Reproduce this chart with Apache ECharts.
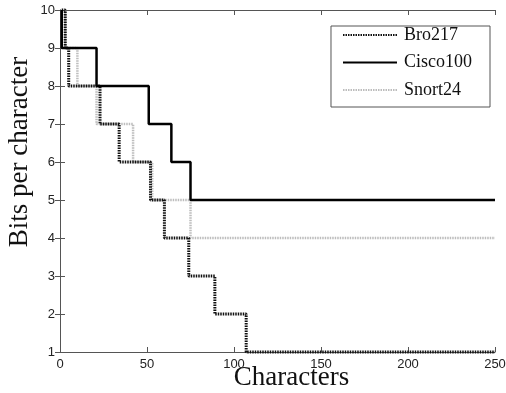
<!DOCTYPE html>
<html>
<head>
<meta charset="utf-8">
<script src="https://cdn.jsdelivr.net/npm/echarts@6/dist/echarts.min.js"></script>
<style>
  html, body { margin: 0; padding: 0; background: #fff; }
  #chart { width: 506px; height: 393px; }
</style>
</head>
<body>
<div id="chart"></div>
<script>
// step breakpoints: x where the level starts, and the level (bits per char)
const broX = [1, 3, 5, 23, 34, 52, 60, 74, 89, 107, 250];
const broY = [10, 9, 8, 7, 6, 5, 4, 3, 2, 1, 1];
const ciscoX = [1, 1, 21, 51, 64, 75, 250];
const ciscoY = [10, 9, 8, 7, 6, 5, 5];
const snortX = [3, 3, 10, 21, 42, 53, 75, 250];
const snortY = [10, 9, 8, 7, 6, 5, 4, 4];

const xTicks = [0, 50, 100, 150, 200, 250];
const yTicks = [1, 2, 3, 4, 5, 6, 7, 8, 9, 10];

function pairs(xs, ys) {
  return xs.map((x, i) => [x, ys[i]]);
}

const chart = echarts.init(document.getElementById('chart'));

const tickLabel = { color: '#222', fontFamily: 'Liberation Sans', fontSize: 13 };
const axLine = { show: true, lineStyle: { color: '#555', width: 1 } };
const axTick = { show: true, inside: true, length: 5, lineStyle: { color: '#555' } };

let chart_options = {
  animation: false,
  backgroundColor: '#fff',
  grid: { left: 60, right: 11, top: 10, bottom: 41, outerBoundsMode: 'none', containLabel: false },
  legend: {
    orient: 'vertical',
    right: 16,
    top: 26,
    padding: [0, 18, 8, 11],
    itemGap: 9.5,
    itemWidth: 54,
    itemHeight: 16,
    borderColor: '#555',
    borderWidth: 1,
    backgroundColor: '#fff',
    itemStyle: { opacity: 0 },
    textStyle: { fontFamily: 'Liberation Serif', fontSize: 18, color: '#111', padding: [0, 0, 0, 2] },
    data: ['Bro217', 'Cisco100', 'Snort24']
  },
  xAxis: [{
    type: 'value',
    min: 0, max: 250, interval: 50,
    name: 'Characters',
    nameLocation: 'middle',
    nameMoveOverlap: false,
    nameGap: 26,
    nameTextStyle: { fontFamily: 'Liberation Serif', fontSize: 27, color: '#111', verticalAlign: 'middle', padding: [0, 0, 0, 28] },
    axisLine: axLine, axisTick: axTick,
    axisLabel: Object.assign({ margin: 6, formatter: v => xTicks.includes(v) ? String(v) : '' }, tickLabel),
    splitLine: { show: false }
  }, {
    type: 'value', position: 'top',
    min: 0, max: 250, interval: 50,
    axisLine: axLine, axisTick: axTick, axisLabel: { show: false }, splitLine: { show: false }
  }],
  yAxis: [{
    type: 'value',
    min: 1, max: 10, interval: 1,
    name: 'Bits per character',
    nameLocation: 'middle',
    nameMoveOverlap: false,
    nameGap: 40,
    nameTextStyle: { fontFamily: 'Liberation Serif', fontSize: 27, color: '#111', verticalAlign: 'middle', padding: [0, 0, 0, 58] },
    axisLine: axLine, axisTick: axTick,
    axisLabel: Object.assign({ margin: 5, formatter: v => yTicks.includes(v) ? String(v) : '' }, tickLabel),
    splitLine: { show: false }
  }, {
    type: 'value', position: 'right',
    min: 1, max: 10, interval: 1,
    axisLine: axLine, axisTick: axTick, axisLabel: { show: false }, splitLine: { show: false }
  }],
  series: [{
    name: 'Bro217',
    type: 'line',
    step: 'end',
    symbol: 'none',
    clip: false,
    z: 3,
    lineStyle: { color: '#111', width: 3, type: [1.5, 1] },
    itemStyle: { color: '#111' },
    data: pairs(broX, broY)
  }, {
    name: 'Cisco100',
    type: 'line',
    step: 'end',
    symbol: 'none',
    z: 4,
    lineStyle: { color: '#000', width: 2.5, type: 'solid' },
    itemStyle: { color: '#000' },
    data: pairs(ciscoX, ciscoY)
  }, {
    name: 'Snort24',
    type: 'line',
    step: 'end',
    symbol: 'none',
    z: 2,
    lineStyle: { color: '#bdbdbd', width: 2.5, type: [1.5, 1] },
    itemStyle: { color: '#bdbdbd' },
    data: pairs(snortX, snortY)
  }]
};

chart.setOption(chart_options);
</script>
</body>
</html>
